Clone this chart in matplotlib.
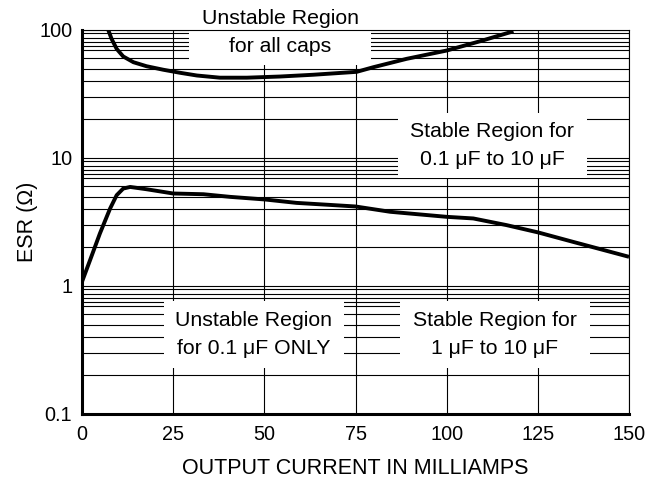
import numpy as np
import matplotlib
matplotlib.use("Agg")
import matplotlib.pyplot as plt
from matplotlib.patches import Rectangle
from matplotlib.ticker import FixedLocator, NullFormatter

plt.rcParams['font.family'] = ['Liberation Sans', 'DejaVu Sans']

# upper boundary (unstable for all caps above it)
upper_x = [7.2, 8.1, 9.5, 11.3, 14.1, 17.7, 22.3, 26.9, 31.5, 37.8, 45.2, 54.3, 63.4,
           75.3, 79.9, 89.0, 100.0, 109.1, 118.3]
upper_esr = [100, 85.3, 71.2, 62.1, 56.0, 52.1, 48.9, 46.3, 44.1, 42.4, 42.4, 43.3, 44.7,
             47.1, 51.2, 59.5, 69.1, 81.6, 97.7]

# lower boundary
lower_x = [0.0, 2.2, 4.9, 7.7, 9.5, 11.3, 13.2, 17.7, 25.0, 33.3, 40.6, 50.2, 58.8, 68.0,
           75.0, 84.5, 100.0, 107.3, 116.4, 125.1, 134.7, 150.0]
lower_esr = [1.08, 1.59, 2.57, 4.03, 5.12, 5.77, 5.94, 5.70, 5.28, 5.21, 4.97, 4.74, 4.46, 4.30,
             4.18, 3.80, 3.47, 3.37, 2.99, 2.62, 2.21, 1.69]

x_ticks = [0, 25, 50, 75, 100, 125, 150]
y_ticks = [0.1, 1, 10, 100]
y_tick_labels = ["0.1", "1", "10", "100"]

fig = plt.figure(figsize=(6.53, 4.79), dpi=100)
ax = fig.add_axes([0.1256, 0.1357, 0.8377, 0.8017])

ax.set_yscale('log')
ax.set_xlim(0, 150)
ax.set_ylim(0.1, 100)

# grid lines as in the datasheet (irregular near the top of each decade)
minor_steps = [2, 3, 4, 5, 6, 7, 7.5, 8, 8.7, 9.4]
minor = [d * m for d in [0.1, 1, 10] for m in minor_steps]
ax.yaxis.set_minor_locator(FixedLocator(minor))
ax.yaxis.set_minor_formatter(NullFormatter())
ax.set_yticks(y_ticks)
ax.set_yticklabels(y_tick_labels)
ax.set_xticks(x_ticks)
ax.xaxis.set_minor_locator(FixedLocator([]))

ax.grid(True, which='both', axis='y', color='black', linewidth=0.8, zorder=1)
ax.grid(True, which='major', axis='x', color='black', linewidth=0.8, zorder=1)
ax.set_axisbelow(True)

ax.tick_params(which='both', length=0, labelsize=14.3)
ax.tick_params(axis='y', pad=7)
ax.tick_params(axis='x', pad=8)

for s in ['left', 'bottom']:
    ax.spines[s].set_linewidth(2.2)
for s in ['top', 'right']:
    ax.spines[s].set_linewidth(0.8)

# white label boxes covering the grid
boxes = [
    ((0.1956, 0.909), 0.3327, 0.17, 0.362, 0.993, "Unstable Region\nfor all caps"),
    ((0.5777, 0.6146), 0.3455, 0.1693, 0.7495, 0.699, "Stable Region for\n0.1 μF to 10 μF"),
    ((0.1499, 0.1198), 0.3291, 0.1745, 0.3144, 0.208, "Unstable Region\nfor 0.1 μF ONLY"),
    ((0.5814, 0.1198), 0.3473, 0.1745, 0.755, 0.208, "Stable Region for\n1 μF to 10 μF"),
]
for (xy, w, h, tx, ty, label) in boxes:
    ax.add_patch(Rectangle(xy, w, h, transform=ax.transAxes, facecolor='white',
                           edgecolor='none', zorder=2, clip_on=False))
    ax.text(tx, ty, label, transform=ax.transAxes, ha='center', va='center',
            fontsize=15.3, linespacing=1.6, zorder=4)

ax.plot(upper_x, upper_esr, color='black', linewidth=2.8, zorder=3,
        solid_capstyle='butt', solid_joinstyle='round')
ax.plot(lower_x, lower_esr, color='black', linewidth=2.8, zorder=3,
        solid_capstyle='butt', solid_joinstyle='round')

ax.set_xlabel("OUTPUT CURRENT IN MILLIAMPS", fontsize=15.5, labelpad=10)
ax.set_ylabel("ESR (Ω)", fontsize=15.5, labelpad=1)

fig.savefig("out.png", dpi=100)
